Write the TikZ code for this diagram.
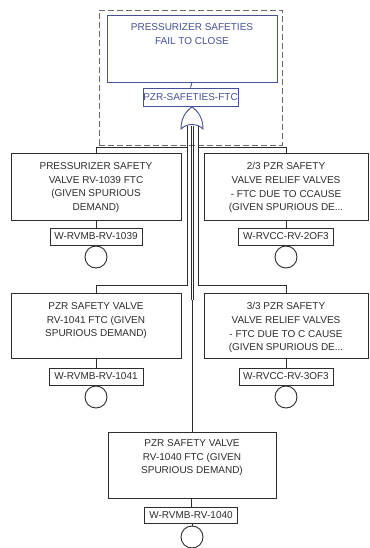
\documentclass[tikz,border=0pt]{standalone}
\usepackage{fontspec}
\setmainfont{Liberation Sans}
\definecolor{ink}{RGB}{45,45,45}
\definecolor{gblue}{RGB}{70,80,150}
\definecolor{dashgray}{RGB}{105,105,105}
\begin{document}
\begin{tikzpicture}[x=1pt,y=-1pt,
  box/.style={draw=ink, line width=0.9pt, inner sep=0},
  txt/.style={text=ink, font=\fontsize{10}{13.7}\selectfont, align=center, anchor=north, inner sep=0},
  lbl/.style={draw=ink, line width=0.9pt, text=ink, font=\fontsize{10}{12}\selectfont, inner sep=0, minimum height=17pt},
  evt/.style={draw=ink, line width=0.9pt, circle, minimum size=22pt, inner sep=0},
  wire/.style={draw=ink, line width=0.9pt}]
\fill[white] (0,0) rectangle (369,548);
\useasboundingbox (0,0) rectangle (369,548);

% group frame
\node[draw=dashgray, dashed, dash pattern=on 6pt off 3pt, line width=0.8pt, minimum width=183pt, minimum height=135pt, inner sep=0] (grp) at (190.5,77.5) {};

% top event
\node[box, draw=gblue, minimum width=170pt, minimum height=67pt] (topbox) at (192,48.5) {};
\node[txt, text=gblue, font=\fontsize{10}{14}\selectfont] (toptxt) at (192,23.4) {PRESSURIZER SAFETIES\\FAIL TO CLOSE};
\node[lbl, draw=gblue, text=gblue, minimum width=95pt, minimum height=18pt] (toplbl) at (190.5,97) {PZR-SAFETIES-FTC};

% gate coordinates
\coordinate (gtop) at (192,107);
\coordinate (gL) at (187,126);
\coordinate (gC1) at (191,126);
\coordinate (gC2) at (193.4,126);
\coordinate (gR) at (198,126);
\coordinate (cmerge) at (192,300);

% row 1 left
\node[box, minimum width=170pt, minimum height=67pt] (tlbox) at (96,186.5) {};
\node[txt] (tltxt) at (96,162.4) {PRESSURIZER SAFETY\\VALVE RV-1039 FTC\\(GIVEN SPURIOUS\\DEMAND)};
\node[lbl, minimum width=92pt] (tllbl) at (96,236.5) {W-RVMB-RV-1039};
\node[evt] (tlc) at (96,257) {};

% row 1 right
\node[box, minimum width=164pt, minimum height=67pt] (trbox) at (286,186.5) {};
\node[txt] (trtxt) at (286,162.4) {2/3 PZR SAFETY\\VALVE RELIEF VALVES\\- FTC DUE TO CCAUSE\\(GIVEN SPURIOUS DE...};
\node[lbl, minimum width=95pt] (trlbl) at (286,236.5) {W-RVCC-RV-2OF3};
\node[evt] (trc) at (286,257) {};

% row 2 left
\node[box, minimum width=170pt, minimum height=65pt] (mlbox) at (96,325.5) {};
\node[txt] (mltxt) at (96,302.4) {PZR SAFETY VALVE\\RV-1041 FTC (GIVEN\\SPURIOUS DEMAND)};
\node[lbl, minimum width=94pt] (mllbl) at (96,376.5) {W-RVMB-RV-1041};
\node[evt] (mlc) at (96,397) {};

% row 2 right
\node[box, minimum width=164pt, minimum height=65pt] (mrbox) at (286,325.5) {};
\node[txt] (mrtxt) at (286,302.4) {3/3 PZR SAFETY\\VALVE RELIEF VALVES\\- FTC DUE TO C CAUSE\\(GIVEN SPURIOUS DE...};
\node[lbl, minimum width=94pt] (mrlbl) at (286,376.5) {W-RVCC-RV-3OF3};
\node[evt] (mrc) at (286,397) {};

% bottom
\node[box, minimum width=168pt, minimum height=66pt] (btbox) at (192,465) {};
\node[txt] (bttxt) at (192,439.4) {PZR SAFETY VALVE\\RV-1040 FTC (GIVEN\\SPURIOUS DEMAND)};
\node[lbl, minimum width=93pt, minimum height=16pt] (btlbl) at (191,515) {W-RVMB-RV-1040};
\node[evt] (btc) at (192,537) {};

% wiring
\draw[wire, draw=gblue] (topbox.south) -- (toplbl.north);
\draw[wire] (tlbox.north) -- ++(0,-5) -| (gL);
\draw[wire] (trbox.north) -- ++(0,-5) -| (gR);
\draw[wire] (mlbox.north) -- ++(0,-7) -| (gL);
\draw[wire] (mrbox.north) -- ++(0,-7) -| (gR);
\draw[wire] (gC1) -- (gC1 |- cmerge);
\draw[wire] (gC2) -- (gC2 |- cmerge);
\draw[wire] (cmerge) -- (cmerge |- btbox.north);

\foreach \b/\l/\c in {tlbox/tllbl/tlc, trbox/trlbl/trc, mlbox/mllbl/mlc, mrbox/mrlbl/mrc} {
  \draw[wire] (\b.south) -- (\l.north);
  \draw[wire] (\l.south) -- (\c.north);
}
\draw[wire] (btbox.south -| btlbl.north) -- (btlbl.north);
\draw[wire] (btlbl.south -| btc.north) -- (btc.north);

% OR gate
\draw[gblue, line width=0.9pt, fill=white] (181,129) .. controls (181,118) and (186,111) .. (gtop) .. controls (198,111) and (203,118) .. (203,129) .. controls (197,123) and (187,123) .. cycle;
\draw[wire, draw=gblue] (toplbl.south) -- (gtop);
\end{tikzpicture}
\end{document}
